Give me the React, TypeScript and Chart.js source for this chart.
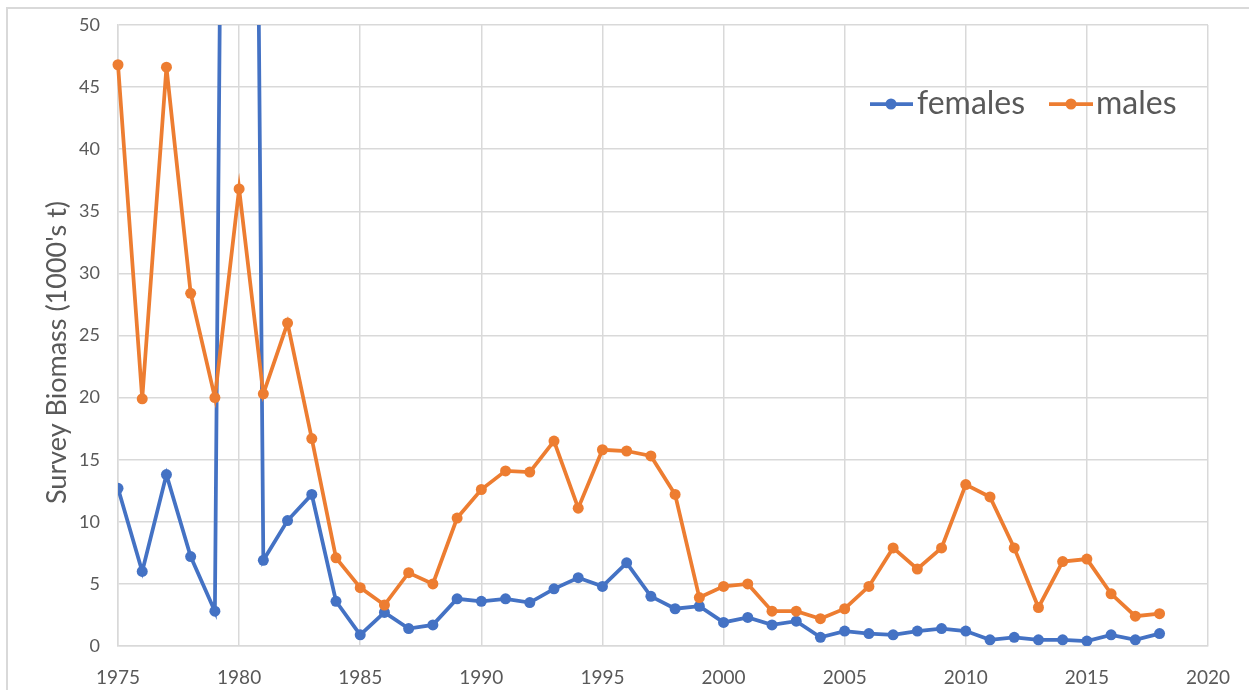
import React, { useEffect, useRef } from "react";
import { Chart, registerables } from "chart.js";

Chart.register(...registerables);

const years: number[] = [
  1975, 1976, 1977, 1978, 1979, 1980, 1981, 1982, 1983, 1984, 1985, 1986, 1987, 1988, 1989,
  1990, 1991, 1992, 1993, 1994, 1995, 1996, 1997, 1998, 1999, 2000, 2001, 2002, 2003, 2004,
  2005, 2006, 2007, 2008, 2009, 2010, 2011, 2012, 2013, 2014, 2015, 2016, 2017, 2018,
];

const females: number[] = [
  12.7, 6.0, 13.8, 7.2, 2.8, 240, 6.9, 10.1, 12.2, 3.6, 0.9, 2.7, 1.4, 1.7, 3.8,
  3.6, 3.8, 3.5, 4.6, 5.5, 4.8, 6.7, 4.0, 3.0, 3.2, 1.9, 2.3, 1.7, 2.0, 0.7,
  1.2, 1.0, 0.9, 1.2, 1.4, 1.2, 0.5, 0.7, 0.5, 0.5, 0.4, 0.9, 0.5, 1.0,
];

const males: number[] = [
  46.8, 19.9, 46.6, 28.4, 20.0, 36.8, 20.3, 26.0, 16.7, 7.1, 4.7, 3.3, 5.9, 5.0, 10.3,
  12.6, 14.1, 14.0, 16.5, 11.1, 15.8, 15.7, 15.3, 12.2, 3.9, 4.8, 5.0, 2.8, 2.8, 2.2,
  3.0, 4.8, 7.9, 6.2, 7.9, 13.0, 12.0, 7.9, 3.1, 6.8, 7.0, 4.2, 2.4, 2.6,
];

const seriesNames: string[] = ["females", "males"];
const yTitle = "Survey Biomass (1000's t)";

const BLUE = "#4472C4";
const ORANGE = "#ED7D31";
const GRID = "#d9d9d9";
const TEXT = "#595959";
const FONT = "Lato";

const W = 1249;
const H = 690;

const decorPlugin = {
  id: "decor",
  beforeDraw(chart: any) {
    const { ctx } = chart;
    ctx.save();
    ctx.fillStyle = "#ffffff";
    ctx.fillRect(0, 0, chart.width, chart.height);
    ctx.strokeStyle = GRID;
    ctx.lineWidth = 2;
    ctx.beginPath();
    ctx.moveTo(7, chart.height);
    ctx.lineTo(7, 8);
    ctx.lineTo(chart.width, 8);
    ctx.stroke();
    ctx.restore();
  },
  afterDraw(chart: any) {
    const { ctx, chartArea } = chart;
    ctx.save();
    // y axis title
    ctx.translate(chartArea.left - 61, (chartArea.top + chartArea.bottom) / 2 + 17);
    ctx.rotate(-Math.PI / 2);
    ctx.fillStyle = TEXT;
    ctx.font = `27px ${FONT}`;
    ctx.textAlign = "center";
    ctx.textBaseline = "middle";
    ctx.fillText(yTitle, 0, 0);
    ctx.restore();

    // legend
    const items = [
      { name: seriesNames[0], color: BLUE, x0: 870, x1: 913, dot: 891, tx: 917 },
      { name: seriesNames[1], color: ORANGE, x0: 1049, x1: 1093, dot: 1071, tx: 1096 },
    ];
    const ly = 104;
    ctx.save();
    for (const it of items) {
      ctx.strokeStyle = it.color;
      ctx.lineWidth = 3.75;
      ctx.beginPath();
      ctx.moveTo(it.x0, ly);
      ctx.lineTo(it.x1, ly);
      ctx.stroke();
      ctx.fillStyle = it.color;
      ctx.beginPath();
      ctx.arc(it.dot, ly, 5.5, 0, Math.PI * 2);
      ctx.fill();
      ctx.fillStyle = TEXT;
      ctx.font = `32px ${FONT}`;
      ctx.textAlign = "left";
      ctx.textBaseline = "middle";
      ctx.fillText(it.name, it.tx, ly);
    }
    ctx.restore();
  },
};

export default function App() {
  const ref = useRef<HTMLCanvasElement | null>(null);

  useEffect(() => {
    if (!ref.current) return;
    const mk = (vals: number[]) => years.map((x, i) => ({ x, y: vals[i] }));
    const chart = new Chart(ref.current, {
      type: "line",
      data: {
        datasets: [
          {
            label: seriesNames[0],
            data: mk(females),
            borderColor: BLUE,
            backgroundColor: BLUE,
            borderWidth: 3.75,
            pointRadius: 5.5,
            pointBorderWidth: 0,
            pointBackgroundColor: BLUE,
            tension: 0,
            clip: 0,
            order: 1,
          } as any,
          {
            label: seriesNames[1],
            data: mk(males),
            borderColor: ORANGE,
            backgroundColor: ORANGE,
            borderWidth: 3.75,
            pointRadius: 5.5,
            pointBorderWidth: 0,
            pointBackgroundColor: ORANGE,
            tension: 0,
            clip: 8,
            order: 0,
          } as any,
        ],
      },
      options: {
        animation: false,
        responsive: false,
        devicePixelRatio: 1,
        layout: { padding: { left: 0, top: 25, right: 41, bottom: 0 } },
        plugins: {
          legend: { display: false },
          tooltip: { enabled: false },
          title: { display: false },
        },
        scales: {
          x: {
            type: "linear",
            min: 1975,
            max: 2020,
            ticks: {
              stepSize: 5,
              color: TEXT,
              font: { family: FONT, size: 19 },
              padding: 20,
              maxRotation: 0,
              callback: (v: any) => String(v),
            },
            grid: { color: GRID, lineWidth: 1.5, drawTicks: false },
            border: { color: GRID, width: 1.5 },
            afterFit: (s: any) => {
              s.height = 44;
              s.paddingLeft = 0;
              s.paddingRight = 0;
            },
          },
          y: {
            type: "linear",
            min: 0,
            max: 50,
            ticks: {
              stepSize: 5,
              color: TEXT,
              font: { family: FONT, size: 18 },
              padding: 18,
            },
            grid: { color: GRID, lineWidth: 1.5, drawTicks: false },
            border: { color: GRID, width: 1.5 },
            afterFit: (s: any) => {
              s.width = 118;
              s.paddingTop = 0;
              s.paddingBottom = 0;
            },
          },
        },
      },
      plugins: [decorPlugin],
    });
    return () => chart.destroy();
  }, []);

  return (
    <div style={{ position: "fixed", left: 0, top: 0, width: W, height: H, background: "#fff" }}>
      <canvas ref={ref} width={W} height={H} style={{ width: W, height: H, display: "block" }} />
    </div>
  );
}
